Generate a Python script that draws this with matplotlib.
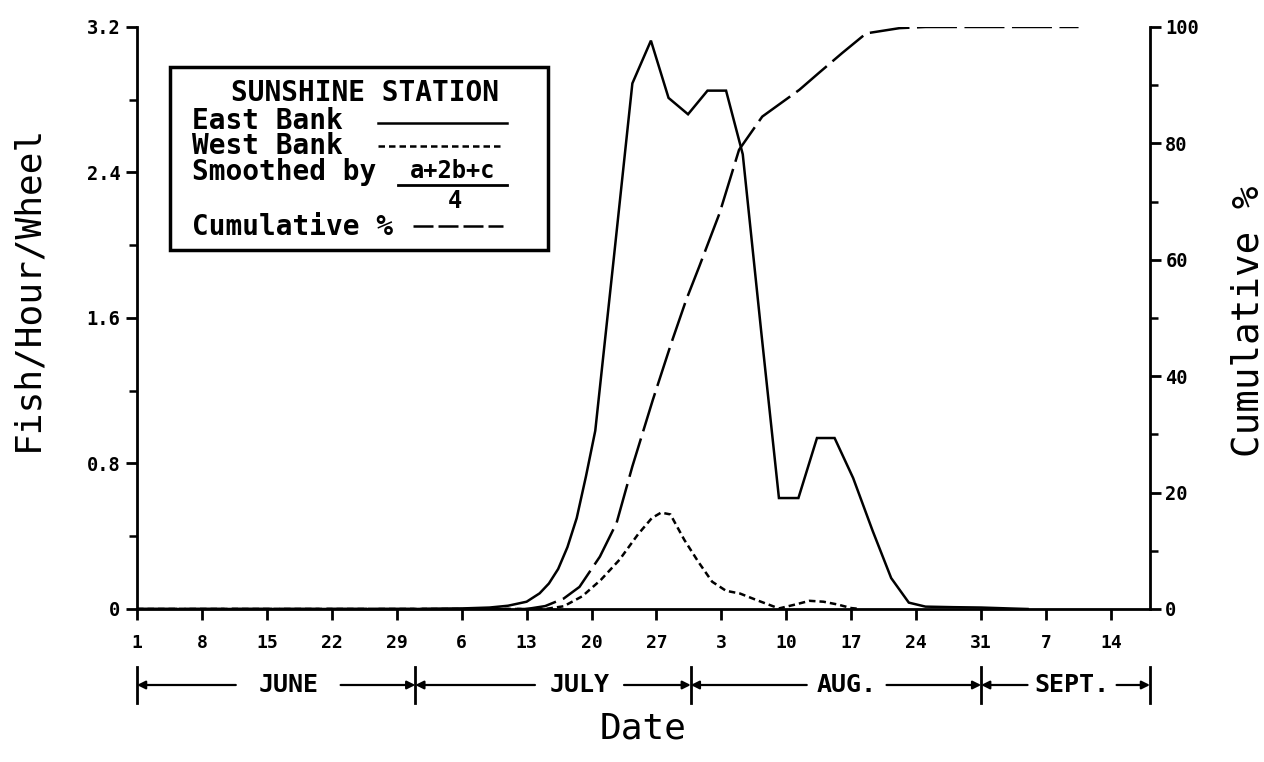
import matplotlib
matplotlib.use("Agg")
import matplotlib.pyplot as plt
import matplotlib.transforms as mtransforms
from matplotlib.ticker import MultipleLocator, FixedLocator
from matplotlib.patches import Rectangle
from matplotlib.lines import Line2D

# x values are days counted from June 1 (June 1 = 0)
east_day = [0, 30, 35, 38, 40, 42, 43.4, 44.4, 45.4, 46.4, 47.4, 48.4, 49.4,
            51.4, 53.4, 55.4, 57.3, 59.4, 61.5, 63.5, 65.3, 67.3, 69.2, 71.3,
            73.3, 75.2, 77.2, 79.3, 81.3, 83.2, 85, 88, 91, 94, 96]
east_fhw = [0, 0, 0.003, 0.008, 0.018, 0.04, 0.086, 0.14, 0.22, 0.34, 0.5,
            0.73, 0.98, 1.93, 2.89, 3.125, 2.81, 2.72, 2.85, 2.85, 2.5, 1.52,
            0.61, 0.61, 0.94, 0.94, 0.72, 0.43, 0.17, 0.035, 0.013, 0.01,
            0.008, 0.003, 0]

west_day = [0, 44, 46, 48, 50, 52, 54, 55.5, 56.5, 57.5, 59, 60.5, 62, 63.5,
            65, 67, 69.2, 71, 72.5, 74, 75.5, 77, 78]
west_fhw = [0, 0, 0.015, 0.07, 0.16, 0.27, 0.41, 0.5, 0.53, 0.52, 0.38, 0.26,
            0.15, 0.1, 0.085, 0.045, 0.003, 0.025, 0.045, 0.04, 0.025, 0.005, 0]

cum_day = [0, 42, 44, 46, 47.7, 49.9, 51.7, 53.4, 55.6, 57.6, 59.2, 60.6,
           62.8, 64.9, 67.4, 71.4, 73.5, 76, 78.6, 82.2, 85, 101.5]
cum_pct = [0, 0, 0.5, 1.8, 3.8, 9, 14.8, 24.5, 35.9, 45.7, 53.1, 58.8, 68,
           78.9, 84.6, 89.2, 92.1, 95.5, 98.9, 99.8, 100, 100]

tick_days = [0, 7, 14, 21, 28, 35, 42, 49, 56, 63, 70, 77, 84, 91, 98, 105]
tick_labels = ["1", "8", "15", "22", "29", "6", "13", "20", "27", "3", "10",
               "17", "24", "31", "7", "14"]

months = ["JUNE", "JULY", "AUG.", "SEPT."]
month_edges = [0, 30, 59.7, 91, 109.2]
month_mid = [16.3, 47.7, 76.5, 100.8]
month_half = [5.65, 4.8, 4.3, 4.8]

mono = "DejaVu Sans Mono"
lw = 1.8

fig = plt.figure(figsize=(12.64, 7.62), dpi=100)
ax = fig.add_axes([0.1084, 0.2008, 0.8014, 0.7638])
ax2 = ax.twinx()

ax.plot(east_day, east_fhw, color="black", lw=lw, solid_joinstyle="miter")
ax.plot(west_day, west_fhw, color="black", lw=lw, dashes=(2.6, 1.6))
ax2.plot(cum_day, cum_pct, color="black", lw=lw, dashes=(16, 3))

ax.set_xlim(0, 109.2)
ax.set_ylim(0, 3.2)
ax2.set_ylim(0, 100)

ax.spines["top"].set_visible(False)
ax2.spines["top"].set_visible(False)
for sp in ["left", "bottom"]:
    ax.spines[sp].set_linewidth(2)
ax2.spines["right"].set_linewidth(2)
ax2.spines["left"].set_visible(False)
ax2.spines["bottom"].set_visible(False)

ax.xaxis.set_major_locator(FixedLocator(tick_days))
ax.set_xticklabels(tick_labels, family=mono, weight="bold", fontsize=13)
ax.tick_params(axis="x", direction="out", length=8, width=2, pad=10)

ax.yaxis.set_minor_locator(MultipleLocator(0.4))
ax.set_yticks([0, 0.8, 1.6, 2.4, 3.2])
ax.set_yticklabels(["0", "0.8", "1.6", "2.4", "3.2"], family=mono,
                   weight="bold", fontsize=13.5)
ax.tick_params(axis="y", which="major", direction="out", length=8, width=2, pad=4)
ax.tick_params(axis="y", which="minor", direction="out", length=6, width=1.8)

ax2.yaxis.set_minor_locator(MultipleLocator(10))
ax2.set_yticks([0, 20, 40, 60, 80, 100])
ax2.set_yticklabels(["0", "20", "40", "60", "80", "100"], family=mono,
                    weight="bold", fontsize=13.5)
ax2.tick_params(axis="y", which="major", direction="out", length=8, width=2, pad=3)
ax2.tick_params(axis="y", which="minor", direction="out", length=6, width=1.8)

ax.set_ylabel("Fish/Hour/Wheel", family=mono, fontsize=26)
ax.yaxis.set_label_coords(-0.091, 0.552)
ax2.set_ylabel("Cumulative %", family=mono, fontsize=27)
ax2.yaxis.set_label_coords(1.079, 0.495)
fig.text(0.509, 0.022, "Date", family=mono, fontsize=26, ha="center", va="bottom")

# month bar under the date ticks
tr = mtransforms.blended_transform_factory(ax.transData, fig.transFigure)
row_y = 1 - 685 / 762
for e in month_edges:
    ax.plot([e, e], [row_y - 0.024, row_y + 0.024], color="black", lw=2,
            transform=tr, clip_on=False)
for i, name in enumerate(months):
    ax.text(month_mid[i], row_y, name, family=mono, weight="bold", fontsize=18,
            ha="center", va="center", transform=tr)
    for start, end in [(month_mid[i] - month_half[i], month_edges[i]),
                       (month_mid[i] + month_half[i], month_edges[i + 1])]:
        ax.annotate("", xy=(end, row_y), xytext=(start, row_y),
                    xycoords=tr, textcoords=tr,
                    arrowprops=dict(arrowstyle="-|>", color="black", lw=1.6,
                                    mutation_scale=12, shrinkA=0, shrinkB=0))

# legend box
box = Rectangle((0.0326, 0.617), 0.3731, 0.314, transform=ax.transAxes,
                fill=False, lw=2.5, color="black", zorder=5)
ax.add_patch(box)
lkw = dict(family=mono, weight="bold", fontsize=20, transform=ax.transAxes,
           va="center", zorder=6)
ax.text(0.225, 0.887, "SUNSHINE STATION", ha="center", **lkw)
ax.text(0.0543, 0.839, "East Bank", ha="left", **lkw)
ax.text(0.0543, 0.795, "West Bank", ha="left", **lkw)
ax.text(0.0543, 0.751, "Smoothed by", ha="left", **lkw)
ax.text(0.0543, 0.656, "Cumulative %", ha="left", **lkw)
ax.text(0.3115, 0.753, "a+2b+c", ha="center", family=mono, weight="bold",
        fontsize=17, transform=ax.transAxes, va="center", zorder=6)
ax.text(0.314, 0.701, "4", ha="center", family=mono, weight="bold",
        fontsize=17, transform=ax.transAxes, va="center", zorder=6)
ax.add_line(Line2D([0.258, 0.365], [0.729, 0.729], transform=ax.transAxes,
                   color="black", lw=2))
ax.add_line(Line2D([0.238, 0.365], [0.835, 0.835], transform=ax.transAxes,
                   color="black", lw=lw))
ax.add_line(Line2D([0.238, 0.361], [0.796, 0.796], transform=ax.transAxes,
                   color="black", lw=lw, dashes=(2.6, 1.6)))
ax.add_line(Line2D([0.272, 0.361], [0.658, 0.658], transform=ax.transAxes,
                   color="black", lw=lw, dashes=(8, 2)))

fig.savefig("out.png", dpi=100)
